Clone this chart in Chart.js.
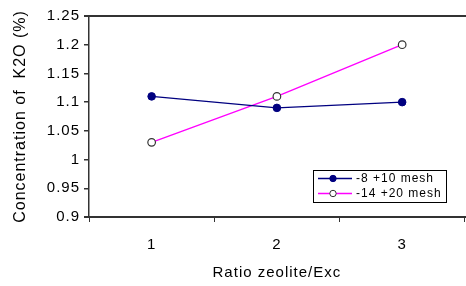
<!DOCTYPE html>
<html>
<head>
<meta charset="utf-8">
<script src="https://cdn.jsdelivr.net/npm/chart.js@4.4.1/dist/chart.umd.min.js"></script>
<style>
  html, body { margin: 0; padding: 0; background: #fff; overflow: hidden; }
  canvas { display: block; }
</style>
</head>
<body>
<canvas id="myLineChart" width="470" height="286"></canvas>
<script>
// data
const ratios = ['1', '2', '3'];
const mesh8to10 = [1.11, 1.09, 1.10];
const mesh14to20 = [1.03, 1.11, 1.20];
const seriesNames = ['-8 +10 mesh', '-14 +20 mesh'];
const yTicks = [0.9, 0.95, 1, 1.05, 1.1, 1.15, 1.2, 1.25];

const FONT = '"Liberation Sans", Arial, sans-serif';
const AXIS = '#333333';

// the original text is drawn a bit wider than plain Arial
const wideText = {
    id: 'wideText',
    beforeLayout(chart) { chart.ctx.letterSpacing = '1px'; },
    beforeDraw(chart) { chart.ctx.letterSpacing = '1px'; }
};

// top and bottom edges of the plot area
const plotFrame = {
    id: 'plotFrame',
    afterDraw(chart) {
        const ctx = chart.ctx;
        const a = chart.chartArea;
        ctx.save();
        ctx.fillStyle = AXIS;
        ctx.fillRect(a.left - 5, Math.round(a.top) - 1, chart.width, 2);
        ctx.fillRect(a.left - 5, Math.round(a.bottom) - 1, chart.width, 2);
        ctx.restore();
    }
};

// legend drawn in a box inside the plot, like the Excel original
const boxLegend = {
    id: 'boxLegend',
    afterDatasetsDraw(chart) {
        const ctx = chart.ctx;
        const area = chart.chartArea;
        const x0 = area.left + 224, y0 = area.top + 154, w = 133, h = 32;
        ctx.save();
        ctx.fillStyle = '#fff';
        ctx.fillRect(x0, y0, w, h);
        ctx.strokeStyle = '#000';
        ctx.lineWidth = 1;
        ctx.strokeRect(x0 + 0.5, y0 + 0.5, w, h);
        ctx.font = '12px ' + FONT;
        ctx.textBaseline = 'middle';
        chart.data.datasets.forEach((ds, i) => {
            const cy = y0 + 8.5 + i * 15;
            ctx.strokeStyle = ds.borderColor;
            ctx.lineWidth = 1.3;
            ctx.beginPath();
            ctx.moveTo(x0 + 5, cy);
            ctx.lineTo(x0 + 39, cy);
            ctx.stroke();
            ctx.beginPath();
            ctx.arc(x0 + 20, cy, 3.2, 0, Math.PI * 2);
            ctx.fillStyle = ds.pointBackgroundColor;
            ctx.fill();
            ctx.strokeStyle = ds.pointBorderColor;
            ctx.lineWidth = 1;
            ctx.stroke();
            ctx.fillStyle = '#000';
            ctx.fillText(ds.label, x0 + 43, cy + 0.5);
        });
        ctx.restore();
    }
};

var ctx = document.getElementById('myLineChart').getContext('2d');
var myLineChart = new Chart(ctx, {
    type: 'line',
    data: {
        labels: ratios,
        datasets: [{
            label: seriesNames[0],
            data: mesh8to10,
            borderColor: '#000080',
            borderWidth: 1.2,
            pointBackgroundColor: '#000080',
            pointBorderColor: '#000080',
            pointBorderWidth: 1,
            pointRadius: 3.8,
            tension: 0
        }, {
            label: seriesNames[1],
            data: mesh14to20,
            borderColor: '#ff00ff',
            borderWidth: 1.3,
            pointBackgroundColor: '#ffffff',
            pointBorderColor: '#333333',
            pointBorderWidth: 1.2,
            pointRadius: 3.8,
            tension: 0
        }]
    },
    options: {
        responsive: false,
        animation: false,
        layout: { padding: { top: 16, right: 1, left: 0, bottom: 0 } },
        plugins: {
            legend: { display: false },
            tooltip: { enabled: false }
        },
        scales: {
            x: {
                offset: true,
                grid: {
                    offset: true,
                    drawOnChartArea: false,
                    color: AXIS,
                    tickLength: 5
                },
                border: { display: false },
                ticks: {
                    color: '#000',
                    padding: 14,
                    font: { family: FONT, size: 15 }
                },
                title: {
                    display: true,
                    text: 'Ratio zeolite/Exc',
                    color: '#000',
                    font: { family: FONT, size: 15 },
                    padding: { top: 4, bottom: 4 }
                },
                afterFit(scale) { scale.height = 69; }
            },
            y: {
                min: 0.9,
                max: 1.25,
                afterBuildTicks(scale) {
                    scale.ticks = yTicks.map(v => ({ value: v }));
                },
                grid: {
                    drawOnChartArea: false,
                    tickColor: AXIS,
                    lineWidth: 1.5,
                    tickLength: 5
                },
                border: { color: AXIS, width: 1.5 },
                ticks: {
                    color: '#000',
                    padding: 4,
                    font: { family: FONT, size: 15 },
                    callback: v => String(+v.toFixed(2))
                },
                title: {
                    display: true,
                    text: 'Concentration of  K2O (%)',
                    color: '#000',
                    font: { family: FONT, size: 16 },
                    padding: { top: 11, bottom: 0 }
                },
                afterFit(scale) { scale.width = 89; }
            }
        }
    },
    plugins: [wideText, plotFrame, boxLegend]
});
</script>
</body>
</html>
